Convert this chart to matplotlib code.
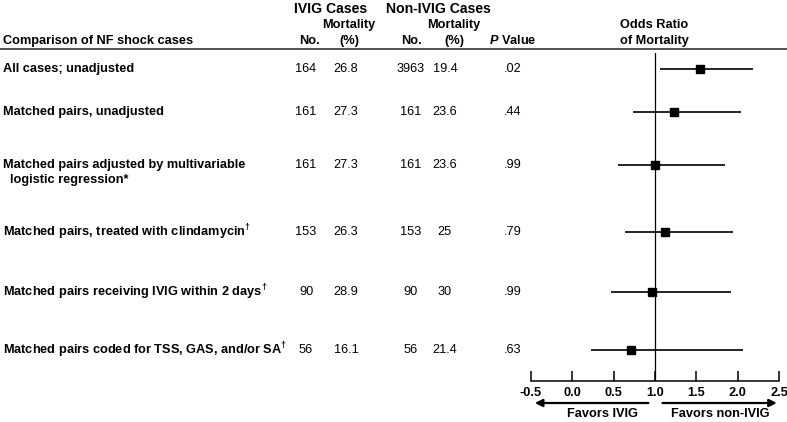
import matplotlib.pyplot as plt

plt.rcParams['font.family'] = ['Liberation Sans', 'DejaVu Sans']
plt.rcParams['mathtext.fontset'] = 'custom'
plt.rcParams['mathtext.rm'] = 'Liberation Sans:bold'
plt.rcParams['mathtext.it'] = 'Liberation Sans:italic:bold'
plt.rcParams['mathtext.bf'] = 'Liberation Sans:bold'

# data
comparisons = [
    'All cases; unadjusted',
    'Matched pairs, unadjusted',
    'Matched pairs adjusted by multivariable\n  logistic regression*',
    'Matched pairs, treated with clindamycin$^{\\dagger}$',
    'Matched pairs receiving IVIG within 2 days$^{\\dagger}$',
    'Matched pairs coded for TSS, GAS, and/or SA$^{\\dagger}$',
]
ivig_n = ['164', '161', '161', '153', '90', '56']
ivig_mort = ['26.8', '27.3', '27.3', '26.3', '28.9', '16.1']
non_n = ['3963', '161', '161', '153', '90', '56']
non_mort = ['19.4', '23.6', '23.6', '25', '30', '21.4']
p_values = ['.02', '.44', '.99', '.79', '.99', '.63']
odds_ratio = [1.54, 1.23, 1.00, 1.12, 0.96, 0.71]
ci_low = [1.06, 0.74, 0.55, 0.64, 0.47, 0.23]
ci_high = [2.18, 2.04, 1.84, 1.94, 1.92, 2.06]
or_ticks = [-0.5, 0.0, 0.5, 1.0, 1.5, 2.0, 2.5]

# layout (pixels)
W, H = 787, 422
row_y = [69, 112, 165, 232, 292, 350]
col_x = [306, 346, 411, 445, 513]
fs = 9.2

fig = plt.figure(figsize=(W / 100, H / 100), dpi=100)
fig.patch.set_facecolor('white')

tab = fig.add_axes([0, 0, 1, 1])
tab.set_xlim(0, W)
tab.set_ylim(H, 0)
tab.axis('off')

# header
tab.text(331, 9, 'IVIG Cases', ha='center', va='center', fontsize=10.1, fontweight='bold')
tab.text(438, 9, 'Non-IVIG Cases', ha='center', va='center', fontsize=10.1, fontweight='bold')
for xm, xn in [(349, 310), (454, 412)]:
    tab.text(xm, 25, 'Mortality', ha='center', va='center', fontsize=fs, fontweight='bold')
    tab.text(xm, 41, '(%)', ha='center', va='center', fontsize=fs, fontweight='bold')
    tab.text(xn, 41, 'No.', ha='center', va='center', fontsize=fs, fontweight='bold')
tab.text(3, 41, 'Comparison of NF shock cases', ha='left', va='center', fontsize=fs, fontweight='bold')
tab.text(513, 41, '$\\mathit{P}$ Value', ha='center', va='center', fontsize=fs, fontweight='bold')
tab.text(654, 25, 'Odds Ratio', ha='center', va='center', fontsize=fs, fontweight='bold')
tab.text(654, 41, 'of Mortality', ha='center', va='center', fontsize=fs, fontweight='bold')
tab.plot([0, W], [48.5, 48.5], color='#444444', lw=1.3)

# table body
for i, y in enumerate(row_y):
    lab = comparisons[i]
    if '\n' in lab:
        first, second = lab.split('\n')
        tab.text(3, y, first, ha='left', va='center', fontsize=fs, fontweight='bold')
        tab.text(3, y + 15, second, ha='left', va='center', fontsize=fs, fontweight='bold')
    else:
        tab.text(3, y, lab, ha='left', va='center', fontsize=fs, fontweight='bold')
    for xc, val in zip(col_x, [ivig_n[i], ivig_mort[i], non_n[i], non_mort[i], p_values[i]]):
        tab.text(xc, y, val, ha='center', va='center', fontsize=fs)

# forest plot
x0, x1 = 530.7, 779.3
top, base = 53, 381
ax = fig.add_axes([x0 / W, (H - base) / H, (x1 - x0) / W, (base - top) / H])
ax.patch.set_visible(False)
ax.set_xlim(-0.5, 2.5)
ax.set_ylim(base, top)

ax.hlines(row_y, ci_low, ci_high, color='black', lw=1.2)
ax.plot(odds_ratio, row_y, 's', ms=6, color='black')
ax.axvline(1, color='black', lw=0.9)

for s in ['left', 'top', 'right']:
    ax.spines[s].set_visible(False)
ax.spines['bottom'].set_linewidth(1.1)
ax.set_yticks([])
ax.set_xticks(or_ticks)
ax.set_xticklabels(['%.1f' % t for t in or_ticks], fontweight='bold')
ax.tick_params(axis='x', direction='in', length=7, width=1.1, pad=4, labelsize=fs)

ax.annotate('', xy=(-0.45, 403), xytext=(0.92, 403), annotation_clip=False,
            arrowprops=dict(arrowstyle='-|>', color='black', lw=1.6, mutation_scale=11,
                            shrinkA=0, shrinkB=0))
ax.annotate('', xy=(2.47, 403), xytext=(1.09, 403), annotation_clip=False,
            arrowprops=dict(arrowstyle='-|>', color='black', lw=1.6, mutation_scale=11,
                            shrinkA=0, shrinkB=0))
ax.text(0.36, 414, 'Favors IVIG', ha='center', va='center', fontsize=fs,
        fontweight='bold', clip_on=False)
ax.text(1.79, 414, 'Favors non-IVIG', ha='center', va='center', fontsize=fs,
        fontweight='bold', clip_on=False)

fig.savefig('out.png', dpi=100)
